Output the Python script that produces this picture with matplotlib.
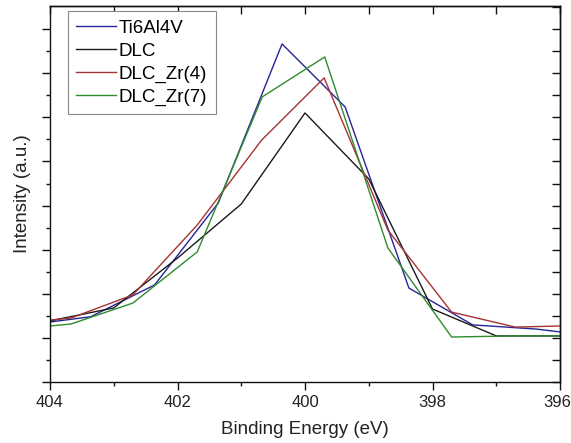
import matplotlib
matplotlib.use("Agg")
import matplotlib.pyplot as plt
import matplotlib.transforms as mtrans
import numpy as np

plt.rcParams['font.family'] = ['Liberation Sans', 'DejaVu Sans']

# Data (binding energy in eV, intensity in arbitrary units)
ti_x = [404.0, 403.36, 402.36, 401.36, 400.36, 399.37, 398.37, 397.37, 396.37, 396.0]
ti_y = [2.72, 2.96, 4.40, 8.12, 15.33, 12.47, 4.26, 2.59, 2.40, 2.27]

dlc_x = [404.0, 403.0, 402.0, 401.0, 400.0, 399.0, 398.0, 397.0, 396.0]
dlc_y = [2.77, 3.36, 5.62, 8.07, 12.20, 9.21, 3.31, 2.09, 2.09]

zr4_x = [404.0, 403.67, 402.70, 401.69, 400.68, 399.70, 398.70, 397.70, 396.70, 396.0]
zr4_y = [2.81, 2.90, 3.95, 7.12, 10.97, 13.79, 6.89, 3.17, 2.49, 2.54]

zr7_x = [404.0, 403.67, 402.70, 401.69, 400.67, 399.69, 398.70, 397.70, 396.70, 396.0]
zr7_y = [2.54, 2.63, 3.58, 5.90, 12.93, 14.74, 6.08, 2.04, 2.09, 2.09]

labels = ['Ti6Al4V', 'DLC', 'DLC_Zr(4)', 'DLC_Zr(7)']
colors = ['#25259a', '#1a1a1a', '#a83232', '#2e8b2e']
xticks = [404, 402, 400, 398, 396]

fig = plt.figure(figsize=(5.71, 4.43), dpi=100)
ax = fig.add_axes([50/571, 61/443, 510/571, 376/443])

series = [(ti_x, ti_y), (dlc_x, dlc_y), (zr4_x, zr4_y), (zr7_x, zr7_y)]
for (xs, ys), lab, c in zip(series, labels, colors):
    ax.plot(xs, ys, color=c, lw=1.0, label=lab)

ax.set_xlim(404, 396)
ax.set_ylim(0, 17.05)
ax.set_xticks(xticks)
ax.set_xticklabels([str(t) for t in xticks])
ax.set_xticks(np.arange(396, 405, 1), minor=True)
ax.set_yticks(np.arange(0, 17, 2))
ax.set_yticks(np.arange(1, 17, 2), minor=True)
ax.set_yticklabels([])
ax.tick_params(axis='both', which='major', direction='out', length=5.5, width=1.0,
               labelsize=12, colors='#111111', pad=4)
ax.tick_params(axis='both', which='minor', direction='out', length=3, width=1.0, colors='#111111')
ax.tick_params(axis='x', labelcolor='#222222')
# keep the last tick label just inside the picture
last = ax.get_xticklabels()[-1]
last.set_horizontalalignment('right')
last.set_transform(last.get_transform() + mtrans.ScaledTranslation(11/100, 0, fig.dpi_scale_trans))

# top and right ticks pointing inward
secx = ax.secondary_xaxis('top')
secx.set_xticks(np.arange(396, 405, 1))
secx.tick_params(direction='in', length=5.5, width=1.0, labeltop=False, colors='#111111')
secx.xaxis.set_minor_locator(matplotlib.ticker.NullLocator())
secy = ax.secondary_yaxis('right')
secy.set_yticks(np.arange(0, 18, 1))
secy.tick_params(direction='in', length=5.5, width=1.0, labelright=False, colors='#111111')
secy.yaxis.set_minor_locator(matplotlib.ticker.NullLocator())
for sp in list(ax.spines.values()) + [secx.spines['top'], secy.spines['right']]:
    sp.set_linewidth(1.0)
    sp.set_color('#111111')

ax.set_xlabel('Binding Energy (eV)', fontsize=13.5, color='#222222', labelpad=8)
ax.set_ylabel('Intensity (a.u.)', fontsize=13.5, color='#222222', labelpad=4)

leg = ax.legend(loc='upper left', bbox_to_anchor=(68/571, 1 - 11/443),
                bbox_transform=fig.transFigure, fontsize=13.5, frameon=True,
                fancybox=False, edgecolor='#888888', framealpha=1.0,
                handlelength=2.1, handletextpad=0.15, labelspacing=0.31,
                borderpad=0.45, borderaxespad=0)
leg.get_frame().set_linewidth(0.8)

fig.savefig('out.png', dpi=100)
